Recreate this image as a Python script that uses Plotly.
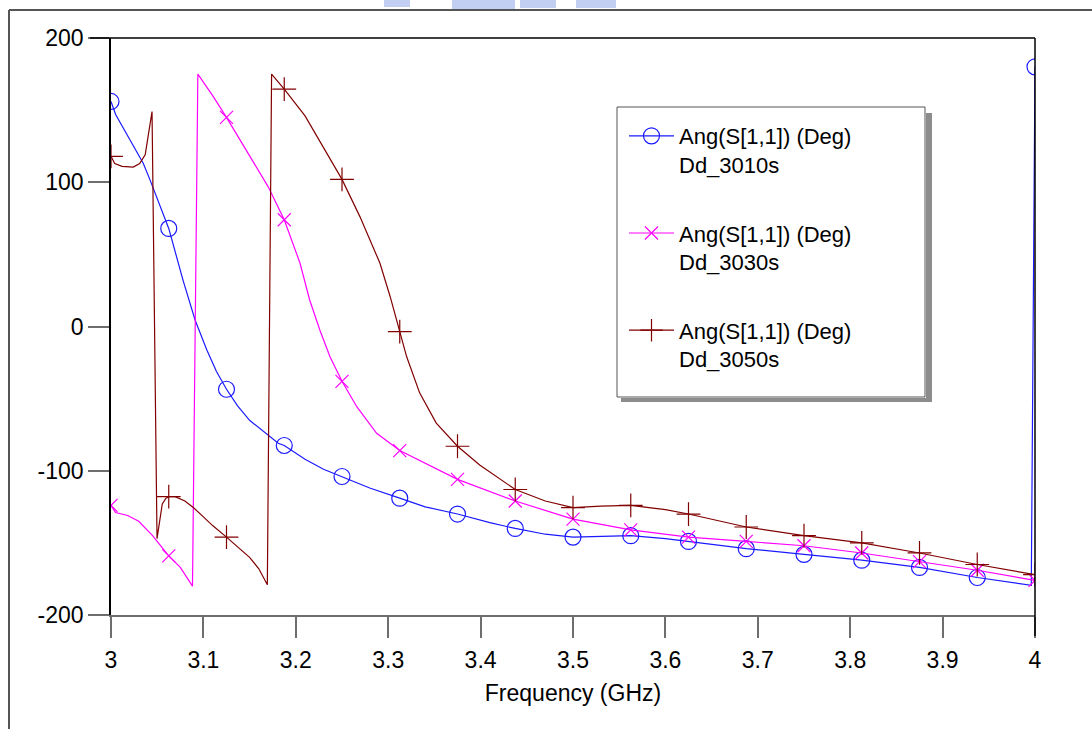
import plotly.graph_objects as go

# ---------------- data ----------------
marker_freq = [3.0, 3.0625, 3.125, 3.1875, 3.25, 3.3125, 3.375, 3.4375, 3.5,
               3.5625, 3.625, 3.6875, 3.75, 3.8125, 3.875, 3.9375, 4.0]

# Dd_3010s
blue_freq = [3.0, 3.005, 3.02, 3.035, 3.042, 3.0625, 3.078, 3.091, 3.1035,
             3.114, 3.125, 3.137, 3.15, 3.165, 3.181, 3.1875, 3.21, 3.23, 3.25,
             3.28, 3.3125, 3.34, 3.375, 3.41, 3.4375, 3.47, 3.5, 3.53, 3.5625,
             3.6, 3.625, 3.6875, 3.75, 3.8125, 3.875, 3.9375, 3.996, 4.0]
blue_vals = [156, 147, 130, 113, 102, 68, 32, 4.5, -16,
             -31, -43.5, -55, -65, -73, -81, -82.5, -92, -99, -104,
             -112, -119, -125, -130, -136, -140, -144, -146, -145.5, -145,
             -147, -149, -154, -158, -162, -167, -174, -179.5, 180]
blue_marks = [156, 68, -43.5, -82.5, -104, -119, -130, -140, -146, -145, -149,
              -154, -158, -162, -167, -174, 180]

# Dd_3030s
mag_freq = [3.0, 3.005, 3.018, 3.03, 3.045, 3.0625, 3.075, 3.0882, 3.094, 3.11,
            3.125, 3.15, 3.17, 3.1875, 3.2045, 3.215, 3.226, 3.237, 3.25, 3.266,
            3.2875, 3.3125, 3.349, 3.375, 3.4375, 3.5, 3.5625, 3.625, 3.6875,
            3.75, 3.8125, 3.875, 3.9375, 4.0]
mag_vals = [-124, -129, -131, -135, -145, -159, -167, -180, 175, 160,
            145, 118, 97, 74, 44, 18.4, -2.4, -21, -38, -55.6,
            -74, -86, -98, -106, -121, -133.5, -141, -146, -149,
            -152, -157, -163, -169, -176]
mag_marks = [-124, -159, 145, 74, -38, -86, -106, -121, -133.5, -141, -146,
             -149, -152, -157, -163, -169, -176]

# Dd_3050s
brn_freq = [3.0, 3.004, 3.012, 3.024, 3.031, 3.037, 3.0444, 3.0498, 3.0555,
            3.0595, 3.0625, 3.0693, 3.08, 3.09, 3.1, 3.11, 3.125, 3.137, 3.15,
            3.16, 3.1692, 3.1738, 3.1875, 3.21, 3.2316, 3.25, 3.2695, 3.28,
            3.291, 3.302, 3.3125, 3.32, 3.334, 3.352, 3.375, 3.399, 3.4375,
            3.47, 3.5, 3.53, 3.5625, 3.6, 3.625, 3.6875, 3.75, 3.8125, 3.875,
            3.9375, 4.0]
brn_vals = [118, 113, 111, 110.5, 113, 119, 149, -147, -123,
            -119, -118, -118, -121, -126, -132, -138, -146, -153, -160,
            -168, -179, 175, 164.6, 146, 122, 102, 76, 60,
            44, 21, -3.5, -21, -46, -67, -83, -96, -113,
            -121, -125.6, -124.5, -124, -127, -130, -139, -145, -150, -157,
            -165, -172]
brn_marks = [118, -118, -146, 164.6, 102, -3.5, -83, -113, -125.6, -124, -130,
             -139, -145, -150, -157, -165, -172]

series_names = ["Ang(S[1,1]) (Deg)<br>Dd_3010s",
                "Ang(S[1,1]) (Deg)<br>Dd_3030s",
                "Ang(S[1,1]) (Deg)<br>Dd_3050s"]
series_colors = ["#1a1aff", "#ff00ff", "#800000"]
series_symbols = ["circle-open", "x-thin-open", "cross-thin-open"]
series_msize = [16, 13, 17]

y_tickvals = [-200, -100, 0, 100, 200]
y_ticktext = ["-200", "-100", "0", "100", "200"]
x_tickvals = [3.0, 3.1, 3.2, 3.3, 3.4, 3.5, 3.6, 3.7, 3.8, 3.9, 4.0]
x_ticktext = ["3", "3.1", "3.2", "3.3", "3.4", "3.5", "3.6", "3.7", "3.8", "3.9", "4"]

FONT = "Liberation Sans, Arial, sans-serif"

fig = go.Figure()
curves = [(blue_freq, blue_vals, blue_marks),
          (mag_freq, mag_vals, mag_marks),
          (brn_freq, brn_vals, brn_marks)]
for i, (fx, fy, mk) in enumerate(curves):
    fig.add_trace(go.Scatter(x=fx, y=fy, mode="lines",
                             line=dict(color=series_colors[i], width=1.2),
                             showlegend=False, hoverinfo="skip"))
    fig.add_trace(go.Scatter(x=marker_freq, y=mk, mode="markers",
                             marker=dict(symbol=series_symbols[i], size=series_msize[i],
                                         color=series_colors[i],
                                         line=dict(color=series_colors[i], width=1.2)),
                             showlegend=False))
for i in range(3):
    fig.add_trace(go.Scatter(x=[None], y=[None], mode="lines+markers",
                             name=series_names[i], legendgroup=f"g{i}",
                             line=dict(color=series_colors[i], width=1.2),
                             marker=dict(symbol=series_symbols[i], size=series_msize[i],
                                         color=series_colors[i],
                                         line=dict(color=series_colors[i], width=1.2))))

W, H = 1092, 729
L, R, T, B = 111, 57, 38, 114
pw, ph = W - L - R, H - T - B


def px(x):
    return (x - L) / pw


def py(y):
    return 1 - (y - T) / ph


shapes = []
# outer page frame
shapes.append(dict(type="line", xref="paper", yref="paper", x0=px(9), x1=px(1092),
                   y0=py(10), y1=py(10), line=dict(color="#555555", width=2)))
shapes.append(dict(type="line", xref="paper", yref="paper", x0=px(9), x1=px(9),
                   y0=py(10), y1=py(729), line=dict(color="#555555", width=2)))
# plot border: top and right in black
shapes.append(dict(type="line", xref="paper", yref="paper", x0=px(90), x1=1,
                   y0=1, y1=1, line=dict(color="black", width=1.5)))
shapes.append(dict(type="line", xref="paper", yref="paper", x0=1, x1=1,
                   y0=py(636), y1=1, line=dict(color="black", width=1.5)))
# legend shadow and box
shapes.append(dict(type="rect", xref="paper", yref="paper", x0=px(926), x1=px(932),
                   y0=py(402), y1=py(113), fillcolor="#8c8c8c", line=dict(width=0)))
shapes.append(dict(type="rect", xref="paper", yref="paper", x0=px(621), x1=px(932),
                   y0=py(402), y1=py(398), fillcolor="#8c8c8c", line=dict(width=0)))
shapes.append(dict(type="rect", xref="paper", yref="paper", x0=px(617), x1=px(925),
                   y0=py(397), y1=py(107), fillcolor="white",
                   line=dict(color="#555555", width=1)))
# watermark fragment at the top
for (a, b, c, d) in [(384, 410, 0, 7), (452, 515, 0, 9), (520, 556, 0, 8), (576, 616, 0, 8)]:
    shapes.append(dict(type="rect", xref="paper", yref="paper", x0=px(a), x1=px(b),
                       y0=py(d), y1=py(c), fillcolor="#c3cff2", line=dict(width=0),
                       layer="below"))

fig.update_layout(
    width=W, height=H,
    margin=dict(l=L, r=R, t=T, b=B, pad=0),
    paper_bgcolor="white", plot_bgcolor="white",
    font=dict(family=FONT, size=23, color="black"),
    shapes=shapes,
    showlegend=True,
    legend=dict(x=px(624), y=py(115), xanchor="left", yanchor="top",
                bgcolor="rgba(0,0,0,0)", borderwidth=0,
                font=dict(family=FONT, size=22, color="black"),
                valign="top", tracegroupgap=37, itemwidth=45,
                itemclick=False, itemdoubleclick=False),
    xaxis=dict(range=[3, 4], tickvals=x_tickvals, ticktext=x_ticktext,
               showgrid=False, zeroline=False, showline=True, linecolor="#6e6e6e",
               linewidth=2, ticks="outside", ticklen=21, tickwidth=2,
               tickcolor="#6e6e6e", tickfont=dict(size=23), ticklabelstandoff=2,
               title=dict(text="Frequency (GHz)", font=dict(size=23), standoff=13)),
    yaxis=dict(range=[-200, 200], tickvals=y_tickvals, ticktext=y_ticktext,
               showgrid=False, zeroline=False, showline=True, linecolor="black",
               linewidth=1.5, ticks="outside", ticklen=21, tickwidth=2,
               tickcolor="#6e6e6e", tickfont=dict(size=23)),
)

fig.write_html("out.html")
